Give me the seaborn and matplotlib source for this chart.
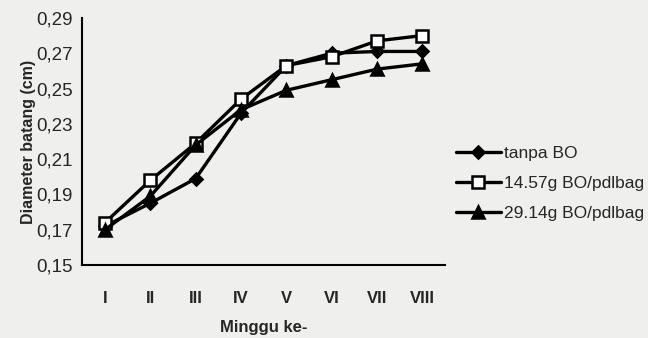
import pandas as pd
import matplotlib.pyplot as plt
import seaborn as sns
from matplotlib.ticker import FixedLocator
from matplotlib.lines import Line2D

# data
minggu = ['I', 'II', 'III', 'IV', 'V', 'VI', 'VII', 'VIII']
tanpa_bo = [0.172, 0.185, 0.199, 0.236, 0.263, 0.270, 0.271, 0.271]
bo_1457 = [0.174, 0.198, 0.219, 0.244, 0.263, 0.268, 0.277, 0.280]
bo_2914 = [0.170, 0.189, 0.218, 0.238, 0.249, 0.255, 0.261, 0.264]
series_names = ['tanpa BO', '14.57g BO/pdlbag', '29.14g BO/pdlbag']
y_ticks = [0.15, 0.17, 0.19, 0.21, 0.23, 0.25, 0.27, 0.29]

df = pd.DataFrame({
    'Minggu': minggu * 3,
    'Diameter': tanpa_bo + bo_1457 + bo_2914,
    'Perlakuan': [s for s in series_names for _ in minggu],
})

sns.set_style('white')
plt.rcParams['font.family'] = ['Liberation Sans', 'DejaVu Sans']

bg = '#efefed'
fig = plt.figure(figsize=(6.48, 3.38), dpi=100, facecolor=bg)
ax = fig.add_axes([0.127, 0.216, 0.56, 0.731], facecolor=bg)

markers = {'tanpa BO': 'D', '14.57g BO/pdlbag': 's', '29.14g BO/pdlbag': '^'}
sizes = {'tanpa BO': 6.5, '14.57g BO/pdlbag': 8.5, '29.14g BO/pdlbag': 8.5}
faces = {'tanpa BO': 'black', '14.57g BO/pdlbag': 'white', '29.14g BO/pdlbag': 'black'}

for name in series_names:
    sub = df[df['Perlakuan'] == name]
    sns.lineplot(data=sub, x='Minggu', y='Diameter', ax=ax, color='black',
                 linewidth=2.4, marker=markers[name], markersize=sizes[name],
                 markerfacecolor=faces[name], markeredgecolor='black',
                 markeredgewidth=1.8, legend=False, sort=False)

ax.set_xlim(-0.5, len(minggu) - 0.5)
ax.set_ylim(0.15, 0.29)
ax.set_yticks(y_ticks)
ax.set_yticklabels([f'{v:.2f}'.replace('.', ',') for v in y_ticks], fontsize=13.5)
ax.set_xticks(range(len(minggu)))
ax.set_xticklabels(minggu, fontsize=12, fontweight='bold')
ax.xaxis.set_minor_locator(FixedLocator([i + 0.5 for i in range(-1, len(minggu))]))
ax.tick_params(axis='x', which='major', length=0, pad=19)
ax.tick_params(axis='x', which='minor', length=5, width=1.2, direction='out', color='black')
ax.tick_params(axis='y', length=5, width=1.2, direction='out', color='black', pad=2)

for side in ['top', 'right']:
    ax.spines[side].set_visible(False)
for side in ['left', 'bottom']:
    ax.spines[side].set_color('black')
    ax.spines[side].set_linewidth(1.5)

ax.set_xlabel('Minggu ke-', fontsize=12, fontweight='bold', labelpad=10)
ax.set_ylabel('Diameter batang (cm)', fontsize=11.5, fontweight='bold', labelpad=0)

handles = [Line2D([0], [0], color='black', linewidth=2.4, marker=markers[n],
                  markersize=sizes[n], markerfacecolor=faces[n],
                  markeredgecolor='black', markeredgewidth=1.8) for n in series_names]
fig.legend(handles, series_names, loc='center left', bbox_to_anchor=(0.69, 0.458),
           frameon=False, fontsize=12.5, handlelength=2.6, handletextpad=0.15,
           labelspacing=0.85, borderpad=0)

fig.savefig('out.png', dpi=100, facecolor=bg)
